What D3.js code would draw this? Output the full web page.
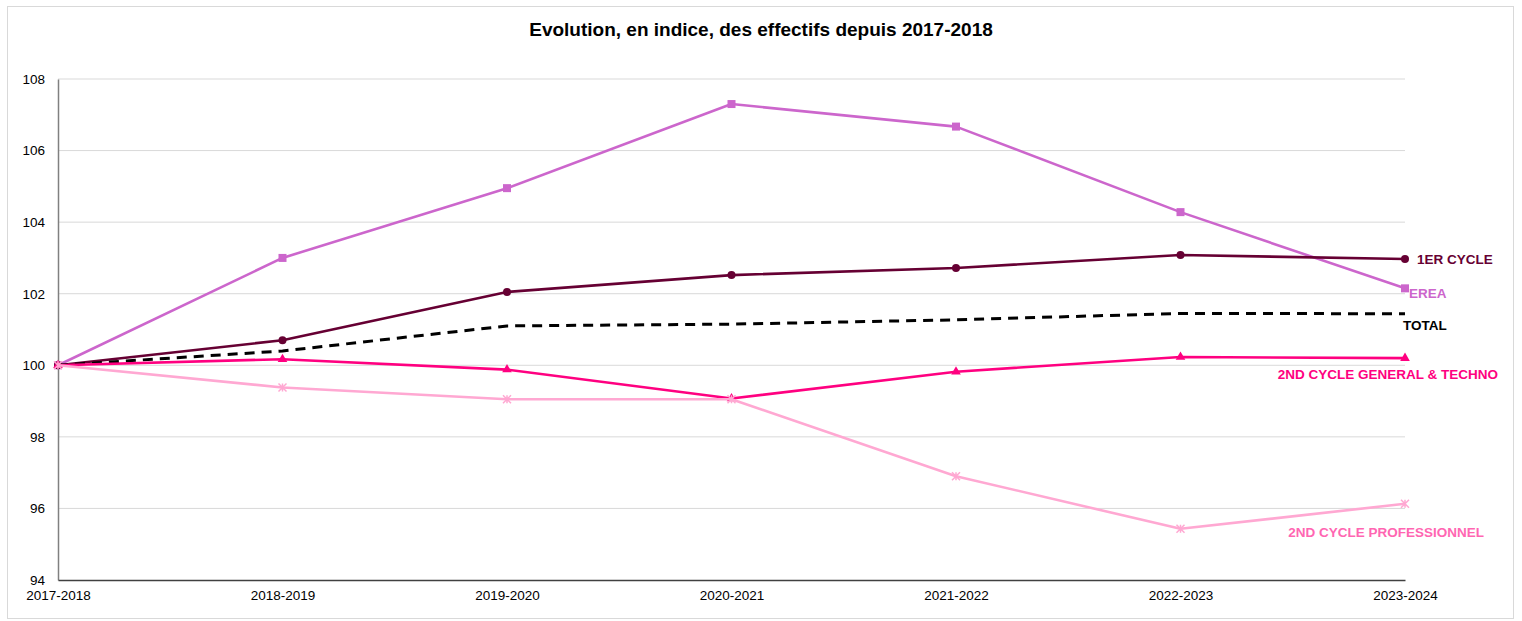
<!DOCTYPE html>
<html><head><meta charset="utf-8">
<script src="https://cdn.jsdelivr.net/npm/d3@7"></script>
<style>
body{margin:0;background:#fff;}
text{font-family:"Liberation Sans",Arial,sans-serif;}
</style></head>
<body><svg id="c" width="1522" height="621"></svg>
<script>
const years = ["2017-2018","2018-2019","2019-2020","2020-2021","2021-2022","2022-2023","2023-2024"];
const erea = [100, 103.0, 104.95, 107.3, 106.67, 104.28, 102.15];
const premierCycle = [100, 100.7, 102.05, 102.52, 102.72, 103.08, 102.97];
const total = [100, 100.4, 101.1, 101.15, 101.27, 101.45, 101.44];
const secondGT = [100, 100.17, 99.88, 99.07, 99.82, 100.23, 100.2];
const secondPro = [100, 99.38, 99.05, 99.05, 96.9, 95.43, 96.13];
const yTicks = [94, 96, 98, 100, 102, 104, 106, 108];

const series = [
  {name:"EREA", values:erea, color:"#cc66cc", marker:"square"},
  {name:"1ER CYCLE", values:premierCycle, color:"#660033", marker:"circle"},
  {name:"TOTAL", values:total, color:"#000000", marker:"none", dash:"10,7"},
  {name:"2ND CYCLE GENERAL & TECHNO", values:secondGT, color:"#ff0080", marker:"triangle"},
  {name:"2ND CYCLE PROFESSIONNEL", values:secondPro, color:"#ffa8d2", marker:"star"}
];

const svg = d3.select("#c");
svg.append("rect").attr("x",7.5).attr("y",6.5).attr("width",1506).attr("height",612)
  .attr("fill","#fff").attr("stroke","#d9d9d9");

const x = d3.scalePoint().domain(years).range([58,1405]);
const y = d3.scaleLinear().domain([94,108]).range([580,79]);

svg.append("g").selectAll("line").data(yTicks.filter(d=>d>94)).join("line")
  .attr("x1",58).attr("x2",1405).attr("y1",d=>y(d)).attr("y2",d=>y(d))
  .attr("stroke","#d9d9d9").attr("stroke-width",1);

const ya = svg.append("g").attr("transform","translate(58,0)")
  .call(d3.axisLeft(y).tickValues(yTicks).tickSize(0).tickPadding(13));
ya.select(".domain").attr("stroke","#808080").attr("stroke-width",1.5);
ya.selectAll("text").attr("font-size",13.5).attr("fill","#000").attr("font-family","Liberation Sans, Arial, sans-serif");

const xa = svg.append("g").attr("transform","translate(0,580)")
  .call(d3.axisBottom(x).tickSize(0).tickPadding(10));
xa.select(".domain").attr("stroke","#404040").attr("stroke-width",1.5);
xa.selectAll("text").attr("font-size",13.5).attr("fill","#000").attr("font-family","Liberation Sans, Arial, sans-serif");

const line = d3.line().x((d,i)=>x(years[i])).y(d=>y(d));

series.forEach(s=>{
  svg.append("path").datum(s.values).attr("d",line).attr("fill","none")
    .attr("stroke",s.color).attr("stroke-width",s.dash?3:2.6)
    .attr("stroke-dasharray",s.dash||null).attr("stroke-linejoin","round");
  const g = svg.append("g");
  s.values.forEach((v,i)=>{
    const cx=x(years[i]), cy=y(v);
    if(s.marker==="square") g.append("rect").attr("x",cx-4).attr("y",cy-4).attr("width",8).attr("height",8).attr("fill",s.color);
    else if(s.marker==="circle") g.append("circle").attr("cx",cx).attr("cy",cy).attr("r",4).attr("fill",s.color);
    else if(s.marker==="triangle") g.append("path").attr("d",d3.symbol(d3.symbolTriangle,40)()).attr("transform",`translate(${cx},${cy})`).attr("fill",s.color);
    else if(s.marker==="star") g.append("path").attr("d",`M${cx-4},${cy-4}L${cx+4},${cy+4}M${cx-4},${cy+4}L${cx+4},${cy-4}M${cx},${cy-4}L${cx},${cy+4}`).attr("stroke",s.color).attr("stroke-width",1.5);
  });
});

const lab = svg.append("g").attr("font-weight","bold").attr("font-size",13.5);
const last = years.length-1;
lab.append("text").attr("x",1417).attr("y",y(premierCycle[last])+5).attr("fill","#660033").text(series[1].name);
lab.append("text").attr("x",1409).attr("y",y(erea[last])+10).attr("fill","#cc66cc").text(series[0].name);
lab.append("text").attr("x",1403).attr("y",y(total[last])+16).attr("fill","#000").text(series[2].name);
lab.append("text").attr("x",1498).attr("y",y(secondGT[last])+21).attr("text-anchor","end").attr("fill","#ff0080").text(series[3].name);
lab.append("text").attr("x",1484).attr("y",y(secondPro[last])+33).attr("text-anchor","end").attr("fill","#ff66b2").text(series[4].name);

svg.append("text").attr("x",761).attr("y",36).attr("text-anchor","middle")
  .attr("font-size",19).attr("font-weight","bold").attr("fill","#000")
  .text("Evolution, en indice, des effectifs depuis 2017-2018");
</script></body></html>
